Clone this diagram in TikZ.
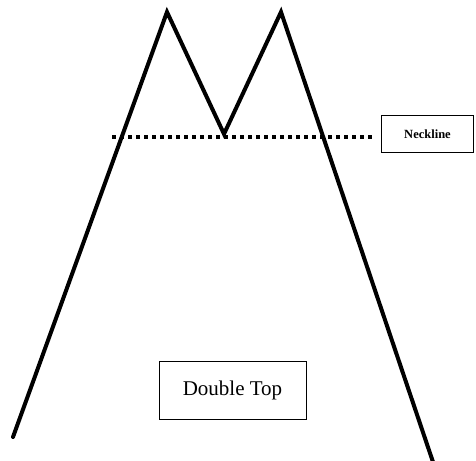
\documentclass[tikz,border=0pt]{standalone}
\usepackage{fontspec}
\setmainfont{Liberation Serif}
\begin{document}
\begin{tikzpicture}[x=1pt,y=-1pt,
  priceline/.style={line width=4pt,line join=miter,line cap=round},
  neckdots/.style={line width=4pt,dash pattern=on 3.5pt off 4.5pt},
  labelbox/.style={draw,line width=0.9pt,inner sep=0pt,align=center}]
\useasboundingbox (0,0) rectangle (476,460);
\coordinate (s) at (13,437);
\coordinate (p1) at (167,12);
\coordinate (v) at (224,134);
\coordinate (p2) at (281,12);
\coordinate (e) at (433,462);
\coordinate (n1) at (112,137);
\coordinate (n2) at (374,137);
\node[labelbox,minimum width=92pt,minimum height=37pt,font=\fontsize{12.5}{14}\selectfont\bfseries] (neck) at (427.5,134) {Neckline};
\node[labelbox,minimum width=147pt,minimum height=58pt,font=\fontsize{21}{24}\selectfont] (dt) at (232.5,390) {Double Top};
\draw[neckdots] (n1) -- (n2);
\draw[priceline] (s) -- (p1) -- (v) -- (p2) -- (e);
\end{tikzpicture}
\end{document}
